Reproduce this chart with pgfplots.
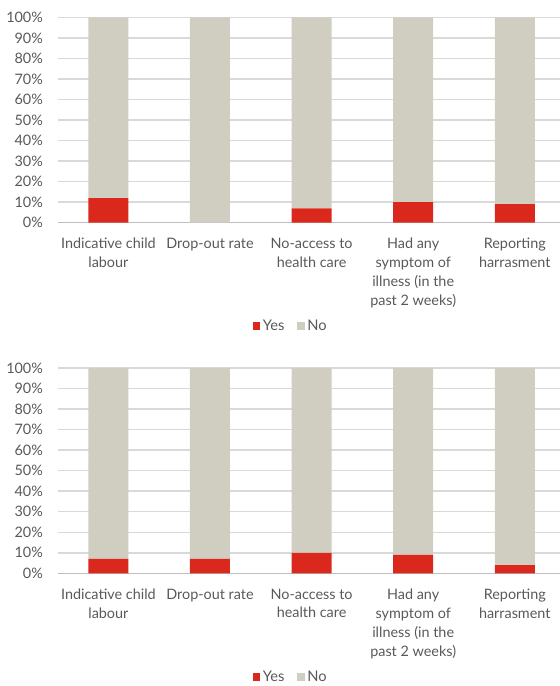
\documentclass[border=0pt]{standalone}
\usepackage{fontspec}
\setmainfont{Lato}
\usepackage{pgfplots}
\pgfplotsset{compat=1.18}
\definecolor{yesred}{RGB}{218,41,28}
\definecolor{nogray}{RGB}{208,205,193}
\definecolor{txt}{RGB}{89,89,89}
\definecolor{gridc}{RGB}{217,217,217}
\definecolor{basec}{RGB}{191,191,191}

\pgfplotsset{mystyle/.style={
  width=376.8pt, height=154pt, scale only axis,
  ybar stacked, bar width=30pt,
  xmin=-0.5, xmax=4.445, ymin=0, ymax=100,
  axis x line*=bottom, axis y line*=left,
  y axis line style={draw=none},
  x axis line style={draw=basec, line width=1pt, -},
  ytick={0,10,...,100},
  yticklabels={0\%,10\%,20\%,30\%,40\%,50\%,60\%,70\%,80\%,90\%,100\%},
  ymajorgrids, grid style={gridc, line width=1.1pt},
  major tick length=0pt,
  xtick={0,1,2,3,4},
  xticklabels={Indicative child\\labour, Drop-out rate, No-access to\\health care, Had any\\symptom of\\illness (in the\\past 2 weeks), Reporting\\harrasment},
  xticklabel style={align=center, text=txt, font=\fontsize{10.8}{14.2}\selectfont, yshift=-8pt},
  yticklabel style={text=txt, font=\fontsize{10.8}{12}\selectfont, xshift=-7.5pt},
  legend columns=2,
  legend style={draw=none, at={(0.4646,-0.504)}, anchor=center, font=\fontsize{11}{12}\selectfont, text=txt,
    /tikz/every even column/.append style={column sep=7.5pt}},
  legend image code/.code={\fill[##1] (0pt,-2.8pt) rectangle (5.6pt,2.8pt);},
}}

\begin{document}
\begin{tikzpicture}
\path[use as bounding box] (0,0) rectangle (420pt,514.5pt);
\begin{axis}[mystyle, at={(43.2pt,501.5pt)}, anchor=north west]
\addplot[fill=yesred, draw=none] coordinates {(0,12) (1,0) (2,7) (3,10) (4,9)};
\addplot[fill=nogray, draw=none] coordinates {(0,88) (1,100) (2,93) (3,90) (4,91)};
\legend{Yes, No}
\end{axis}
\begin{axis}[mystyle, at={(43.2pt,238.5pt)}, anchor=north west]
\addplot[fill=yesred, draw=none] coordinates {(0,7) (1,7) (2,10) (3,9) (4,4)};
\addplot[fill=nogray, draw=none] coordinates {(0,93) (1,93) (2,90) (3,91) (4,96)};
\legend{Yes, No}
\end{axis}
\end{tikzpicture}
\end{document}
